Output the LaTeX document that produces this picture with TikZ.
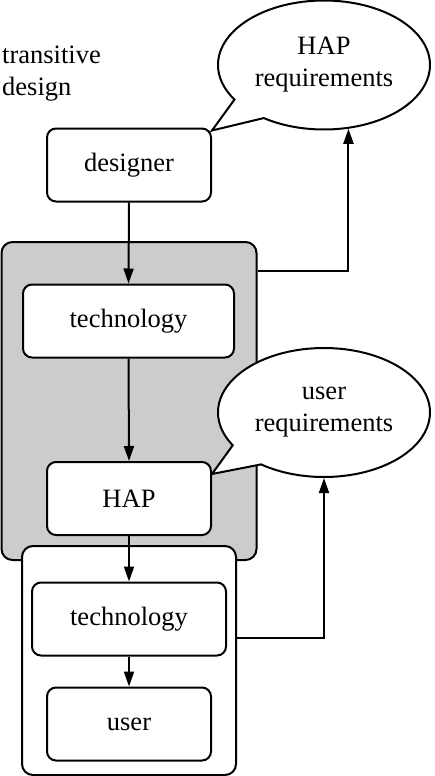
\documentclass[tikz,border=0pt]{standalone}
\usepackage{fontspec}
\setmainfont{Liberation Serif}
\usetikzlibrary{shapes.callouts,arrows.meta,calc}
\definecolor{boxgrey}{RGB}{204,204,204}
\begin{document}
\begin{tikzpicture}[x=1pt,y=1pt,
  txt/.style={font=\fontsize{26.5}{32}\selectfont},
  stepbox/.style={txt, draw, rounded corners=9pt, fill=white, line width=2pt,
    minimum width=#1, minimum height=73pt, inner sep=0pt},
  groupbox/.style={draw, rounded corners=11pt, line width=2pt, inner sep=0pt},
  bubble/.style={txt, ellipse callout, draw, fill=white, line width=2pt,
    minimum width=212pt, minimum height=129pt, align=center, callout pointer arc=23},
  conn/.style={line width=2pt, -{Triangle[length=15pt,width=10pt]}},
  ]
\useasboundingbox (0,0) rectangle (434,-776);

% text top left
\node[txt, align=left, anchor=west, inner sep=0pt] (title) at (2,-74) {transitive\\design};

% group containers
\node[groupbox, fill=boxgrey, minimum width=255pt, minimum height=318pt] (grey) at (129,-401) {};
\node[groupbox, fill=white, minimum width=214pt, minimum height=229pt] (white) at (129,-660.5) {};

% boxes
\node[stepbox=164pt] (designer) at (129,-165) {designer};
\node[stepbox=211pt] (tech1) at (128.5,-321) {technology};
\node[stepbox=164pt] (hap) at (129,-498.5) {HAP};
\node[stepbox=194pt] (tech2) at (129,-619) {technology};
\node[stepbox=164pt] (user) at (129,-724) {user};

% callouts
\node[bubble, callout absolute pointer={([yshift=-3pt]designer.north east)}] (hapreq) at (324,-65) {HAP\\requirements};
\node[bubble, callout absolute pointer={([yshift=-13pt]hap.north east)}] (userreq) at (324,-412.5) {user\\requirements};

% connectors
\draw[conn] (designer.south) -- (tech1.north);
\draw[conn] (tech1.south) -- (hap.north);
\draw[conn] (hap.south) -- (tech2.north);
\draw[conn] (tech2.south) -- (user.north);
\draw[conn] ([yshift=-30pt]grey.north east) -| (hapreq.-69);
\draw[conn] ([yshift=-93pt]white.north east) -| (userreq.south);
\end{tikzpicture}
\end{document}
